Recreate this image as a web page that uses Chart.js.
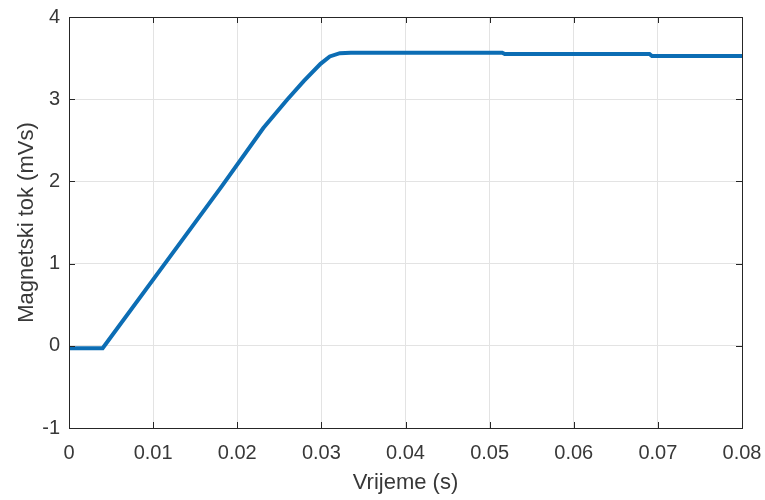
<!DOCTYPE html>
<html>
<head>
<meta charset="utf-8">
<script src="https://cdn.jsdelivr.net/npm/chart.js@4"></script>
<style>
html,body{margin:0;padding:0;background:#fff;}
#wrap{width:765px;height:500px;}
</style>
</head>
<body>
<div id="wrap"><canvas id="c" width="765" height="500"></canvas></div>
<script>
// Data
const timeValues = [0, 0.004, 0.0114, 0.01815, 0.0231, 0.0259, 0.0279, 0.0299, 0.031, 0.0322, 0.0335, 0.0515, 0.0518, 0.069, 0.0693, 0.08];
const fluxValues = [-0.03, -0.03, 1.0, 1.94, 2.65, 2.99, 3.22, 3.43, 3.52, 3.56, 3.565, 3.565, 3.55, 3.55, 3.525, 3.525];
const xTicks = [0, 0.01, 0.02, 0.03, 0.04, 0.05, 0.06, 0.07, 0.08];
const yTicks = [-1, 0, 1, 2, 3, 4];
const xTitle = 'Vrijeme (s)';
const yTitle = 'Magnetski tok (mVs)';

const points = timeValues.map((t, i) => ({x: t, y: fluxValues[i]}));

const boxPlugin = {
  id: 'box',
  afterDraw(chart) {
    const {ctx, chartArea: a, scales} = chart;
    ctx.save();
    ctx.strokeStyle = '#262626';
    ctx.lineWidth = 1;
    ctx.beginPath();
    xTicks.forEach(v => {
      const px = Math.round(scales.x.getPixelForValue(v)) + 0.5;
      ctx.moveTo(px, a.bottom); ctx.lineTo(px, a.bottom - 6);
      ctx.moveTo(px, a.top); ctx.lineTo(px, a.top + 6);
    });
    yTicks.forEach(v => {
      const py = Math.round(scales.y.getPixelForValue(v)) + 0.5;
      ctx.moveTo(a.left, py); ctx.lineTo(a.left + 6, py);
      ctx.moveTo(a.right, py); ctx.lineTo(a.right - 6, py);
    });
    ctx.stroke();
    ctx.strokeRect(Math.round(a.left) + 0.5, Math.round(a.top) + 0.5, Math.round(a.right - a.left), Math.round(a.bottom - a.top));
    ctx.restore();
  }
};

new Chart(document.getElementById('c'), {
  type: 'scatter',
  data: {
    datasets: [{
      data: points,
      showLine: true,
      borderColor: '#0c6db4',
      borderWidth: 4,
      pointRadius: 0,
      tension: 0,
      fill: false
    }]
  },
  options: {
    responsive: false,
    animation: false,
    devicePixelRatio: 1,
    layout: {padding: {top: 17, right: 23, left: 0, bottom: 0}},
    plugins: {legend: {display: false}, tooltip: {enabled: false}},
    scales: {
      x: {
        type: 'linear', min: 0, max: 0.08,
        afterBuildTicks: s => { s.ticks = xTicks.map(v => ({value: v})); },
        afterFit: s => { s.height = 72; s.paddingLeft = 0; s.paddingRight = 0; },
        grid: {color: '#e3e3e3', drawTicks: false, lineWidth: 1},
        border: {display: false},
        ticks: {
          color: '#383838', padding: 13, maxRotation: 0,
          font: {family: 'Liberation Sans', size: 20},
          callback: v => String(Math.round(v * 100) / 100)
        },
        title: {display: true, text: xTitle, color: '#383838', font: {family: 'Liberation Sans', size: 22}, padding: {top: 0, bottom: 4}}
      },
      y: {
        type: 'linear', min: -1, max: 4,
        afterBuildTicks: s => { s.ticks = yTicks.map(v => ({value: v})); },
        afterFit: s => { s.width = 69; s.paddingTop = 0; s.paddingBottom = 0; },
        grid: {color: '#e3e3e3', drawTicks: false, lineWidth: 1},
        border: {display: false},
        ticks: {
          color: '#383838', padding: 9,
          font: {family: 'Liberation Sans', size: 20}
        },
        title: {display: true, text: yTitle, color: '#383838', font: {family: 'Liberation Sans', size: 22}, padding: {top: 14, bottom: 0}}
      }
    }
  },
  plugins: [boxPlugin]
});
</script>
</body>
</html>
